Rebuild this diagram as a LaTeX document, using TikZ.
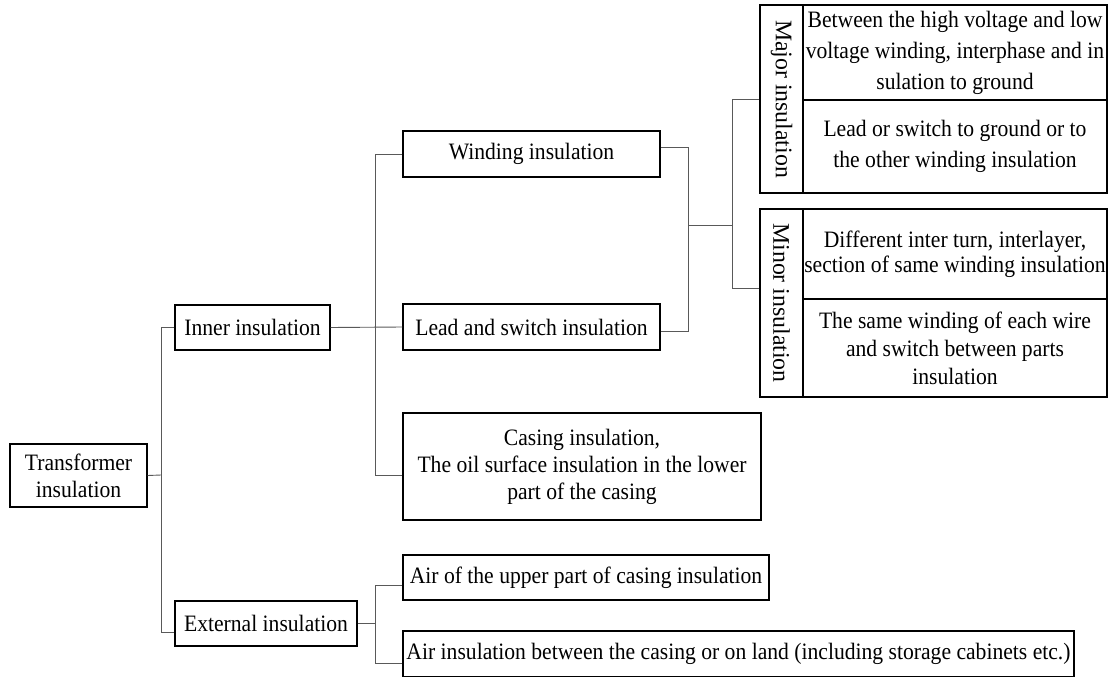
\documentclass[tikz,border=0pt]{standalone}
\usepackage{fontspec}
\setmainfont{Liberation Serif}[FakeStretch=0.92]
\newfontfamily\rotfont{Liberation Serif}
\begin{document}
\begin{tikzpicture}[x=1pt,y=-1pt,
  box/.style={draw=black,line width=1.1pt,inner sep=0pt,align=center,font=\fontsize{23.5}{27}\selectfont},
  wide/.style={font=\fontsize{23.5}{31}\selectfont},
  rotlabel/.style={rotate=-90,font=\rotfont\fontsize{23.8}{27}\selectfont},
  conn/.style={draw=black!65,line width=0.9pt}]
\useasboundingbox (0,0) rectangle (1108,677);
\node[box,minimum width=137,minimum height=63] (T) at (78.5,475.5) {Transformer\\insulation};
\node[box,minimum width=155,minimum height=45] (Inner) at (252.5,327.5) {Inner insulation};
\node[box,minimum width=182,minimum height=45] (Ext) at (266,623.5) {External insulation};
\node[box,minimum width=257,minimum height=46] (Wind) at (531.5,154) {Winding insulation};
\node[box,minimum width=257,minimum height=46] (Lead) at (531.5,327) {Lead and switch insulation};
\node[box,minimum width=358,minimum height=107] (Cas) at (582,466.5) {Casing insulation,\\The oil surface insulation in the lower\\part of the casing};
\node[box,minimum width=366,minimum height=45] (AirU) at (586,577.5) {Air of the upper part of casing insulation};
\node[box,minimum width=671,minimum height=46] (AirB) at (738.5,654) {Air insulation between the casing or on land (including storage cabinets etc.)};
\node[box,rotlabel,minimum width=188,minimum height=43] (MajL) at (781.5,99) {Major insulation};
\node[box,wide,minimum width=304,minimum height=95] (MajA) at (955,52.5) {Between the high voltage and low\\voltage winding, interphase and in\\sulation to ground};
\node[box,wide,minimum width=304,minimum height=93] (MajB) at (955,146.5) {Lead or switch to ground or to\\the other winding insulation};
\node[box,rotlabel,minimum width=188,minimum height=43] (MinL) at (781.5,303) {Minor insulation};
\node[box,font=\fontsize{23.5}{25}\selectfont,minimum width=304,minimum height=90] (MinA) at (955,254) {Different inter turn, interlayer,\\section of same winding insulation};
\node[box,font=\fontsize{23.5}{28}\selectfont,minimum width=304,minimum height=98] (MinB) at (955,348) {The same winding of each wire\\and switch between parts\\insulation};
% connectors
\coordinate (j1) at (161,475);
\draw[conn] (T.east) -- (j1);
\draw[conn] (Inner.west) -| (j1);
\draw[conn] ([yshift=-8.5pt]Ext.west) -| (j1);
\draw[conn] (Inner.east) -- (Lead.west);
\coordinate (j2) at (375,327);
\draw[conn] (Wind.west) -| (j2);
\draw[conn] ([yshift=-8.5pt]Cas.west) -| (j2);
\coordinate (j3) at (375,623.5);
\draw[conn] (Ext.east) -- (j3);
\draw[conn] ([yshift=-7.5pt]AirU.west) -| (j3);
\draw[conn] ([yshift=-9pt]AirB.west) -| (j3);
\coordinate (j4) at (688,225);
\coordinate (j5) at (732,225);
\draw[conn] ([yshift=7pt]Wind.east) -| (j4);
\draw[conn] ([yshift=-4pt]Lead.east) -| (j4);
\draw[conn] (j4) -- (j5);
\draw[conn] (MajL.south) -| (j5);
\draw[conn] ([yshift=15pt]MinL.south) -| (j5);
\end{tikzpicture}
\end{document}
